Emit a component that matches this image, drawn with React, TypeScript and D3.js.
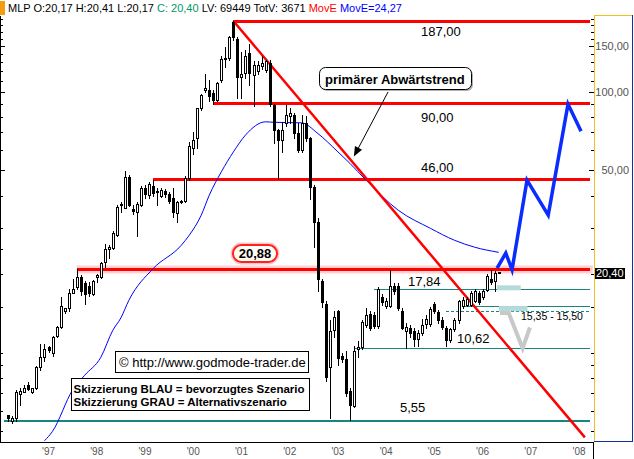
import React from 'react';
import * as d3 from 'd3';

// ---------- DATA ----------
const firstMonth = '1996-03';
const opens = [5.75,5.5,5.6,6.95,7.1,7.5,7.1,7.3,8.85,9.6,10.5,10.0,11.6,12.6,14.5,14.8,17.0,17.8,19.5,18.5,18.1,16.8,19.5,19.5,22.3,24.9,25.3,
  28.3,37.3,36,47,35.5,34.7,37,43,40.2,43.5,41.8,40,41.6,40.5,39.3,34.4,37.9,38.3,46.9,61,66.6,87,101.8,101.8,99,93.2,111,133.5,134.5,
  185,160,114,118,141,116,120,126,121.5,129,89,71.4,65.4,75.8,81,81.6,69.4,59.8,75.8,66.4,43.3,31.7,18.9,15.4,8.8,12.2,14.5,9.7,9.45,7.14,
  6.25,10.3,10.5,12.8,14.1,14.0,12.7,16.3,15.1,15.1,18.0,18.1,14.5,12.1,12.5,12.1,11.3,11.9,12.9,12.9,15.4,14.3,13.4,12.5,11.2,12.3,13.3,
  15.1,15.3,15.3,15.85,17.0,16.3,17.4,19.2,18.9,20.17];
const highs = [5.8,5.7,7.2,7.3,7.5,7.7,7.35,8.9,10.8,10.8,10.6,11.6,12.7,16.3,14.9,17.6,19.2,20.88,19.8,18.9,18.7,19.0,20.0,22.3,26.2,26.0,29.3,
  37,38,49.8,48,37,37.8,43.5,44,45,46,42.7,43,42.5,41.5,43,38.3,38.6,47.5,64,70.4,87,98,117,111,102,109.5,137,149,164,
  187,163,142,145,152,131,131,137,133,132,90,72,77,89,86.5,83,76,81.6,81,67,44,33,19.2,15.85,13.3,14.5,14.6,10,10.2,7.3,
  10.6,11.1,13.4,14.8,14.4,14.3,17.84,16.8,16.2,20.7,18.5,18.5,14.8,13.0,12.8,12.4,12.2,13.5,13.9,15.0,15.7,14.6,13.7,12.7,12.5,13.6,16,
  16.3,16.4,17.2,17.5,17.2,17.5,20.0,20.7,20.5,20.41];
const lows = [5.5,5.4,5.5,6.3,7.05,7.2,7.0,7.25,8.6,9.3,10.1,9.7,11.5,12.5,14.2,14.5,16.9,17.6,16.7,15.4,16.5,16.7,18.6,19.3,21.4,23.0,25.0,
  28,34.7,35.9,36.5,34,28,36.5,39.3,39.2,40,37,39.5,39.5,37.5,33.2,31.6,37.5,38,46,58,61,85,100,92.3,90,92,109,125,132,
  158,95,95,113,106,88,117,122,119,88,63.5,46.5,59,74,76,66.4,59,59,65,39,25.5,17.3,15,7.8,5.6,11.5,9.0,9.2,6.8,5.55,
  6.2,9.6,10.3,12.6,12.2,12.5,12.5,15.3,14.9,15.0,16.8,14.6,12.3,10.4,11.5,10.6,10.6,11.7,12.5,12.7,14.2,13.0,12.3,10.6,11.0,12.1,13,
  14.9,15.1,15.1,15.6,15.4,16.1,17.3,18.3,17.3,20.17];
const closes = [5.6,5.6,7.1,7.15,7.35,7.25,7.3,8.85,9.6,10.3,10.25,11.5,12.6,15.1,14.8,17.0,17.6,19.6,17.3,16.8,17.0,18.8,19.8,22.1,25.1,25.5,28.8,
  36.3,36.8,47.3,37,35.0,37.2,43,40.5,44.2,40.8,41.3,42,40.5,38.1,34.7,37.9,38.3,46.9,62,65.4,86.5,97.4,103.9,96.5,93,108.6,133.5,135,163,
  162,114,117,137,118,127,127,129,131,90,71.4,65.4,71.4,81.6,82.8,69.4,59.8,75.8,66.4,43.3,31.7,19.2,15.6,8.05,12.15,13.7,9.55,9.45,7.0,6.3,
  10.2,10.5,13.1,13.9,12.5,12.7,17.6,15.6,15.85,18.1,17.3,14.8,12.5,12.6,11.9,11.3,11.9,12.8,13.5,14.7,14.5,13.3,12.6,11.2,12.3,13.3,15.85,
  16.0,16.1,17.0,17.3,15.6,17.3,19.7,18.6,20.3,20.40];

// moving average (MovE): month index from first candle, value
const maMonths = [9, 11, 16, 19, 23, 26, 28, 30, 36, 43, 45, 48, 50, 53, 56, 59, 64, 66, 73, 77, 82, 85, 89, 97, 105, 111, 116, 122];
const maValues = [4.6, 5.0, 7.2, 8.2, 9.6, 12.2, 13.6, 15.9, 21.0, 25.8, 28.2, 33.7, 40.2, 49.4, 58.9, 68.3, 76.8, 76.5, 76.1, 69.3, 58.9, 53.2, 45.9, 35.2, 30.0, 27.0, 25.4, 24.27];

const yearValues = [1997, 1998, 1999, 2000, 2001, 2002, 2003, 2004, 2005, 2006, 2007, 2008];
const yearLabels = ["'97", "'98", "'99", "'00", "'01", "'02", "'03", "'04", "'05", "'06", "'07", "'08"];
const axisLabelValues = [150, 100, 50];
const axisLabelTexts = ['150,00', '100,00', '50,00'];
const axisMinorTicks = [190, 180, 170, 160, 140, 130, 120, 110, 90, 80, 70, 60, 40, 30, 25, 20, 15, 10, 9, 8, 7, 6, 5];

const redLevels = [187, 90, 46, 20.88];
const redLevelStarts = ['2000-11', '2000-06', '1999-03', '1997-08'];
const tealLevels = [5.55, 10.4, 17.6, 15.15];
const tealLevelStarts = ['1996-02', '2003-05', '2003-10', '2005-08'];
const dashedLevel = 14.45;
const dashedLevelStart = '2005-04';
const levelEnd = 2008.22;

const trendTimes = [2000.833, 2008.12];
const trendValues = [187, 4.74];

const blueTimes = [2006.30, 2006.48, 2006.61, 2006.92, 2007.36, 2007.77, 2008.04];
const blueValues = [21.1, 24.1, 20.8, 45.9, 33.7, 89.8, 70.7];
const greyTimes = [2006.36, 2006.54, 2006.83, 2006.98];
const greyValues = [14.2, 14.2, 10.4, 12.5];

const zoneTimes = [[2006.30, 2006.79], [2006.34, 2006.93]];
const zoneValues = [[18.14, 17.36], [15.11, 14.42]];

const arrowTimes = [2004.04, 2003.33];
const arrowValues = [100, 56.5];

const lastPrice = 20.40;

// ---------- HELPERS ----------
const ym = (s: string) => { const [y, m] = s.split('-').map(Number); return y + (m - 1) / 12; };
const t0 = ym(firstMonth);

const FONT = "'Liberation Sans', Arial, Helvetica, sans-serif";

export default function App() {
  const x = d3.scaleLinear().domain([1997, 2008]).range([48.5, 579.1]);
  const y = d3.scaleLog().domain([5.55, 187]).range([419.5, 21]);

  const candles = opens.map((o, i) => ({ t: t0 + i / 12, o, h: highs[i], l: lows[i], c: closes[i] }));

  const maLine = d3.line<number>()
    .x((_, i) => x(t0 + maMonths[i] / 12))
    .y((v) => y(v))
    .curve(d3.curveMonotoneX)(maValues) as string;

  const trendLine = d3.line<number>().x((_, i) => x(trendTimes[i])).y((v) => y(v))(trendValues) as string;
  const blueLine = d3.line<number>().x((_, i) => x(blueTimes[i])).y((v) => y(v))(blueValues) as string;
  const greyLine = d3.line<number>().x((_, i) => x(greyTimes[i])).y((v) => y(v))(greyValues) as string;

  const plotRight = 593;
  const plotTop = 16;
  const plotBottom = 442;

  const ax1 = x(arrowTimes[0]), ay1 = y(arrowValues[0]);
  const ax2 = x(arrowTimes[1]), ay2 = y(arrowValues[1]);
  const ang = Math.atan2(ay2 - ay1, ax2 - ax1);
  const ah = 10, aw = 4;
  const arrowHead = [
    [ax2, ay2],
    [ax2 - ah * Math.cos(ang) + aw * Math.sin(ang), ay2 - ah * Math.sin(ang) - aw * Math.cos(ang)],
    [ax2 - ah * Math.cos(ang) - aw * Math.sin(ang), ay2 - ah * Math.sin(ang) + aw * Math.cos(ang)],
  ].map((p) => p.join(',')).join(' ');

  const ticksAll = [...axisMinorTicks.map((v) => ({ v, major: false })), ...axisLabelValues.map((v) => ({ v, major: true }))];

  return (
    <svg width={634} height={459} style={{ position: 'absolute', left: 0, top: 0, background: '#fff' }} fontFamily={FONT}>
      <defs>
        <clipPath id="plot"><rect x={1} y={plotTop} width={plotRight - 1} height={plotBottom - plotTop} /></clipPath>
      </defs>
      <rect x={0} y={0} width={634} height={459} fill="#fff" />

      {/* header */}
      <rect x={0} y={1} width={5} height={14} fill="#f39c12" />
      <text x={8} y={12} fontSize={11} fill="#000">
        <tspan>MLP O:20,17 H:20,41 L:20,17 </tspan>
        <tspan fill="#009966">C: 20,40 </tspan>
        <tspan>LV: 69449 TotV: 3671 </tspan>
        <tspan fill="#ff0000">MovE </tspan>
        <tspan fill="#0000ff">MovE=24,27</tspan>
      </text>

      <g clipPath="url(#plot)">
        {/* teal levels */}
        {tealLevels.map((v, i) => (
          <line key={'tl' + i} x1={x(ym(tealLevelStarts[i]))} x2={x(levelEnd)} y1={Math.round(y(v)) + 0.5} y2={Math.round(y(v)) + 0.5}
            stroke="#188580" strokeWidth={i === 0 ? 2 : 1.5} shapeRendering="crispEdges" />
        ))}
        <line x1={x(ym(dashedLevelStart))} x2={x(levelEnd)} y1={Math.round(y(dashedLevel)) + 0.5} y2={Math.round(y(dashedLevel)) + 0.5}
          stroke="#188580" strokeWidth={1} strokeDasharray="3,2" shapeRendering="crispEdges" />

        {/* target zones */}
        {zoneTimes.map((zt, i) => (
          <rect key={'z' + i} x={x(zt[0])} width={x(zt[1]) - x(zt[0])} y={y(zoneValues[i][0])} height={y(zoneValues[i][1]) - y(zoneValues[i][0])}
            fill="#b4dada" />
        ))}

        {/* red levels */}
        {redLevels.map((v, i) => (
          <g key={'rl' + i}>
            {i === 3 && (
              <line x1={x(ym(redLevelStarts[i]))} x2={x(levelEnd) + 3} y1={y(v)} y2={y(v)} stroke="#ffd0d0" strokeWidth={8} />
            )}
            <line x1={x(ym(redLevelStarts[i]))} x2={x(levelEnd)} y1={y(v)} y2={y(v)} stroke="#ff0000" strokeWidth={3} shapeRendering="crispEdges" />
          </g>
        ))}

        {/* moving average */}
        <path d={maLine} fill="none" stroke="#0000ff" strokeWidth={1} />

        {/* trend line */}
        <path d={trendLine} fill="none" stroke="#ff0000" strokeWidth={2.5} />

        {/* candles */}
        {candles.map((d, i) => {
          const cx = Math.round(x(d.t));
          const yo = Math.round(y(d.o)), yc = Math.round(y(d.c));
          const yh = Math.round(y(d.h)), yl = Math.round(y(d.l));
          const up = d.c >= d.o;
          const top = Math.min(yo, yc), bot = Math.max(yo, yc);
          return (
            <g key={'c' + i} shapeRendering="crispEdges">
              <line x1={cx + 0.5} x2={cx + 0.5} y1={yh} y2={yl + 1} stroke="#000" strokeWidth={1} />
              {up ? (
                <rect x={cx - 0.5} y={top + 0.5} width={2} height={Math.max(bot - top, 1)} fill="#fff" stroke="#000" strokeWidth={1} />
              ) : (
                <rect x={cx - 1} y={top} width={3} height={Math.max(bot - top, 1) + 1} fill="#000" />
              )}
            </g>
          );
        })}

        {/* scenarios */}
        <path d={greyLine} fill="none" stroke="#c8c8c8" strokeWidth={4} strokeLinejoin="miter" />
        <path d={blueLine} fill="none" stroke="#0a2cff" strokeWidth={3.5} strokeLinejoin="miter" />

        {/* arrow */}
        <line x1={ax1} y1={ay1} x2={ax2 - 6 * Math.cos(ang)} y2={ay2 - 6 * Math.sin(ang)} stroke="#000" strokeWidth={1} />
        <polygon points={arrowHead} fill="#000" />
      </g>

      {/* level labels */}
      <g fontSize={13} fill="#000">
        <text x={421} y={y(187) + 15}>187,00</text>
        <text x={421} y={y(90) + 18}>90,00</text>
        <text x={421} y={y(46) - 8}>46,00</text>
        <text x={408} y={y(17.6) - 3}>17,84</text>
        <text x={457} y={y(10.4) - 5}>10,62</text>
        <text x={400} y={y(5.55) - 8}>5,55</text>
      </g>
      <text x={521} y={y(dashedLevel) + 9} fontSize={10.5} fill="#000">15,35 - 15,50</text>

      {/* 20,88 box */}
      <rect x={233} y={245} width={44} height={17} rx={8.5} fill="#fffdf5" stroke="#ffc8c8" strokeWidth={5} />
      <rect x={233} y={245} width={44} height={17} rx={8.5} fill="#fffdf5" stroke="#ff2020" strokeWidth={2} />
      <text x={255} y={258} fontSize={13} fontWeight="bold" textAnchor="middle" fill="#000">20,88</text>

      {/* primärer Abwärtstrend */}
      <rect x={321} y={69} width={152} height={22} rx={6} fill="#b0b0b0" />
      <rect x={319.5} y={67.5} width={152} height={22} rx={6} fill="#fff" stroke="#000" strokeWidth={1} />
      <text x={325} y={83.5} fontSize={13} fontWeight="bold" fill="#000">primärer Abwärtstrend</text>

      {/* copyright box */}
      <rect x={115.5} y={351.5} width={193} height={21} fill="#fff" stroke="#000" strokeWidth={1} shapeRendering="crispEdges" />
      <text x={119} y={366.5} fontSize={13} fill="#000">© http://www.godmode-trader.de</text>

      {/* legend box */}
      <rect x={71.5} y={378.5} width={238} height={32} fill="#fff" stroke="#000" strokeWidth={1} shapeRendering="crispEdges" />
      <text x={73.5} y={392.5} fontSize={11.5} fontWeight="bold" fill="#000">Skizzierung BLAU = bevorzugtes Szenario</text>
      <text x={73.5} y={406} fontSize={11.5} fontWeight="bold" fill="#000">Skizzierung GRAU = Alternativszenario</text>

      {/* left axis */}
      <g shapeRendering="crispEdges">
        <line x1={0.5} x2={0.5} y1={plotTop} y2={plotBottom} stroke="#000" />
        {ticksAll.map((tk, i) => (
          <line key={'lt' + i} x1={0} x2={tk.major ? 5 : 3} y1={Math.round(y(tk.v)) + 0.5} y2={Math.round(y(tk.v)) + 0.5} stroke="#000" />
        ))}
      </g>

      {/* right axis panel */}
      <g shapeRendering="crispEdges">
        <rect x={594.5} y={15.5} width={38} height={426} fill="#fff" stroke="none" />
        <line x1={594.5} x2={594.5} y1={15} y2={442} stroke="#f0c020" />
        <line x1={594} x2={633} y1={15.5} y2={15.5} stroke="#f0c020" />
        <line x1={632.5} x2={632.5} y1={15} y2={442} stroke="#1030a0" strokeWidth={1.5} />
        <line x1={594} x2={633} y1={441.5} y2={441.5} stroke="#1030a0" strokeWidth={1.5} />
        {ticksAll.map((tk, i) => (
          <line key={'rt' + i} x1={tk.major ? 589 : 591} x2={594} y1={Math.round(y(tk.v)) + 0.5} y2={Math.round(y(tk.v)) + 0.5} stroke="#000" />
        ))}
      </g>
      {axisLabelValues.map((v, i) => (
        <text key={'al' + i} x={629} y={y(v) + 4} fontSize={11} fill="#555" textAnchor="end">{axisLabelTexts[i]}</text>
      ))}
      <rect x={595} y={Math.round(y(lastPrice)) - 4} width={30} height={11} fill="#000" />
      <text x={596} y={Math.round(y(lastPrice)) + 5} fontSize={11} fill="#fff">20,40</text>

      {/* bottom axis */}
      <g shapeRendering="crispEdges">
        <line x1={0} x2={594} y1={plotBottom + 0.5} y2={plotBottom + 0.5} stroke="#000" />
        <line x1={593.5} x2={593.5} y1={plotBottom} y2={459} stroke="#000" />
      </g>
      {yearValues.map((v, i) => (
        <text key={'yl' + i} x={x(v)} y={455} fontSize={10} fill="#555" textAnchor="middle">{yearLabels[i]}</text>
      ))}
    </svg>
  );
}
